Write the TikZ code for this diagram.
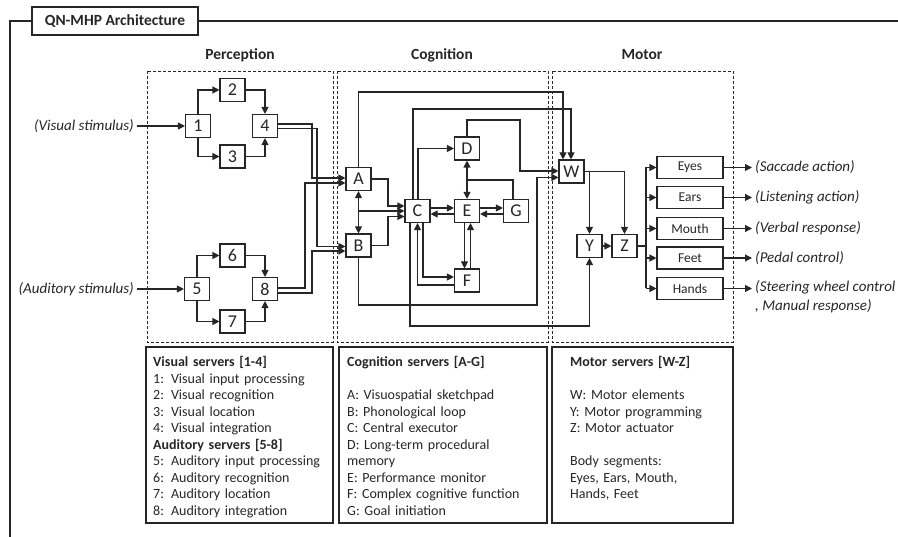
\documentclass[tikz,border=0pt]{standalone}
\usepackage{fontspec}
\setmainfont{Carlito}
\usetikzlibrary{arrows.meta}
\definecolor{ink}{HTML}{262626}
\tikzset{
  srv/.style={draw=ink, line width=1.1pt, minimum width=25pt, minimum height=23pt, inner sep=0pt, font=\fontsize{18}{18}\selectfont},
  seg/.style={draw=ink, line width=1.1pt, minimum width=66pt, minimum height=22pt, inner sep=0pt, font=\fontsize{13.5}{13.5}\selectfont},
  ln/.style={draw=ink, line width=1.1pt},
  arr/.style={ln, -{Triangle[length=7pt,width=7pt]}},
  darr/.style={ln, {Triangle[length=7pt,width=7pt]}-{Triangle[length=7pt,width=7pt]}},
  zone/.style={draw=ink, line width=0.9pt, dash pattern=on 3pt off 2pt},
  legtxt/.style={anchor=north west, inner sep=0pt, text width=185pt, align=left, font=\fontsize{14}{16.5}\selectfont},
  hdr/.style={anchor=base, font=\fontsize{15.5}{15.5}\selectfont\bfseries},
  stim/.style={font=\fontsize{15}{19}\selectfont\itshape, inner sep=3pt},
}
\begin{document}
\begin{tikzpicture}[x=1pt,y=-1pt, every node/.style={text=ink}]
\useasboundingbox (0,0) rectangle (898,537);

% frame and title
\node[draw=ink, line width=1.1pt, minimum width=166pt, minimum height=28pt, inner sep=0pt,
      font=\fontsize{15.5}{15.5}\selectfont\bfseries] (title) at (115,21) {QN-MHP Architecture};
\draw[ln] (10,537) -- (10,21) -- (title.west);
\draw[ln] (title.east) -- (898,21);

% headers
\node[hdr] (hp) at (240,60) {Perception};
\node[hdr] (hc) at (442,60) {Cognition};
\node[hdr] (hm) at (642,60) {Motor};

% zones
\draw[zone] (147,71) rectangle (333,342);
\draw[zone] (337,71) rectangle (548,342);
\draw[zone] (552,71) rectangle (733,342);

% perception servers
\node[srv] (n1) at (198,126) {1};
\node[srv] (n2) at (232.5,90) {2};
\node[srv] (n3) at (232.5,156.5) {3};
\node[srv] (n4) at (265,126) {4};
\node[srv] (n5) at (197,289) {5};
\node[srv] (n6) at (232.5,255.5) {6};
\node[srv] (n7) at (232.5,321.5) {7};
\node[srv] (n8) at (265,289) {8};

\node[stim, anchor=east] (vs) at (137,126) {(Visual stimulus)};
\node[stim, anchor=east] (as) at (137,289) {(Auditory stimulus)};

% cognition servers
\node[srv] (A) at (358.5,179) {A};
\node[srv] (B) at (358.5,245.5) {B};
\node[srv] (C) at (417.5,211) {C};
\node[srv] (D) at (467,148.5) {D};
\node[srv] (E) at (467,211) {E};
\node[srv] (G) at (516,211) {G};
\node[srv] (F) at (467,280.5) {F};

% motor servers
\node[srv] (W) at (571.5,171.5) {W};
\node[srv] (Y) at (589.5,246) {Y};
\node[srv] (Z) at (624.5,246) {Z};

\node[seg] (eyes)  at (690,167.5) {Eyes};
\node[seg] (ears)  at (690,197.5) {Ears};
\node[seg] (mouth) at (690,228.5) {Mouth};
\node[seg] (feet)  at (690,258) {Feet};
\node[seg] (hands) at (690,288.5) {Hands};

\node[stim, anchor=west] (o1) at (752,167.5) {(Saccade action)};
\node[stim, anchor=west] (o2) at (752,197.5) {(Listening action)};
\node[stim, anchor=west] (o3) at (752,228.5) {(Verbal response)};
\node[stim, anchor=west] (o4) at (752,258) {(Pedal control)};
\node[stim, anchor=north west, align=left] (o5) at (752,277) {(Steering wheel control\\, Manual response)};

% perception connectors
\draw[arr] (vs.east) -- (n1.west);
\draw[arr] (as.east) -- (n5.west);
\draw[arr] (n1.north) |- (n2.west);
\draw[arr] (n2.east) -| (n4.north);
\draw[arr] (n1.south) |- (n3.west);
\draw[arr] (n3.east) -| (n4.south);
\draw[arr] (n5.north) |- (n6.west);
\draw[arr] (n6.east) -| (n8.north);
\draw[arr] (n5.south) |- (n7.west);
\draw[arr] (n7.east) -| (n8.south);

\draw[arr] (n4.east |- 0,124) -- (312,124) -- (312,178) -- (A.west |- 0,178);
\draw[arr] (n4.east |- 0,128.5) -- (317,128.5) -- (317,246.5) -- (B.west |- 0,246.5);
\draw[arr] (n8.east |- 0,288) -- (305,288) -- (305,183) -- (A.west |- 0,183);
\draw[arr] (n8.east |- 0,293) -- (312,293) -- (312,251) -- (B.west |- 0,251);

% cognition connectors
\draw[darr] (A.south) -- (B.north);
\coordinate (jab) at (A.south |- 0,211);
\draw[arr] (jab) -- (C.west |- 0,211);
\draw[arr] (A.east) -- (388,179) -- (388,206) -- (C.west |- 0,206);
\draw[arr] (B.east) -- (388,245.5) -- (388,216.5) -- (C.west |- 0,216.5);
\draw[arr] (C.east |- 0,208) -- (E.west |- 0,208);
\draw[arr] (E.west |- 0,214) -- (C.east |- 0,214);
\draw[arr] (E.east |- 0,208) -- (G.west |- 0,208);
\draw[arr] (G.west |- 0,214) -- (E.east |- 0,214);
\draw[darr] (D.south) -- (E.north);
\draw[ln] (G.north -| 513,0) -- (513,180) -- (467,180);
\draw[arr] (E.south -| 464.5,0) -- (F.north -| 464.5,0);
\draw[arr] (F.north -| 470.5,0) -- (E.south -| 470.5,0);
\draw[arr] (C.north -| 418,0) |- (D.west);
\draw[arr] (C.north -| 413,0) -- (413,109) -- (571,109) -- (W.north -| 571,0);
\draw[arr] (A.north) -- (358.5,92) -- (563,92) -- (W.north -| 563,0);
\draw[arr] (D.north) -- (467,120) -- (520,120) -- (520,171) -- (W.west |- 0,171);
\draw[arr] (B.south) -- (358.5,305) -- (537,305) -- (537,177.5) -- (W.west |- 0,177.5);
\draw[arr] (C.south -| 410,0) -- (410,326) -- (589.5,326) -- (Y.south);
\draw[arr] (C.south -| 423,0) -- (423,277) -- (F.west |- 0,277);
\draw[arr] (F.west |- 0,285) -- (417.5,285) -- (C.south -| 417.5,0);

% motor connectors
\draw[arr] (W.east) -| (Z.north);
\draw[arr] (W.east -| Y.north) -- (Y.north);
\draw[arr] (Y.east) -- (Z.west);
\coordinate (trunk) at (646,246);
\draw[draw=ink, line width=2.2pt] (Z.east) -- (trunk);
\draw[ln] (eyes.west -| trunk) -- (hands.west -| trunk);
\foreach \s in {eyes,ears,mouth,feet,hands}{
  \draw[arr] (\s.west -| trunk) -- (\s.west);
}
\draw[arr] (eyes.east) -- (o1.west);
\draw[arr] (ears.east) -- (o2.west);
\draw[arr] (mouth.east) -- (o3.west);
\draw[arr] (feet.east) -- (o4.west);
\draw[arr] (hands.east) -- (hands.east -| o5.west);

% legends
\draw[ln] (146,347) rectangle (333,523);
\draw[ln] (339,347) rectangle (547,523);
\draw[ln] (552,347) rectangle (733,523);

\node[legtxt] (lp) at (153,355) {\strut\textbf{Visual servers [1-4]}\\
1: Visual input processing\\
2: Visual recognition\\
3: Visual location\\
4: Visual integration\\
\textbf{Auditory servers [5-8]}\\
5: Auditory input processing\\
6: Auditory recognition\\
7: Auditory location\\
8: Auditory integration};

\node[legtxt] (lc) at (347,355) {\strut\textbf{Cognition servers [A-G]}\\
\mbox{}\\
A: Visuospatial sketchpad\\
B: Phonological loop\\
C: Central executor\\
D: Long-term procedural\\
memory\\
E: Performance monitor\\
F: Complex cognitive function\\
G: Goal initiation};

\node[legtxt] (lm) at (570,355) {\strut\textbf{Motor servers [W-Z]}\\
\mbox{}\\
W: Motor elements\\
Y: Motor programming\\
Z: Motor actuator\\
\mbox{}\\
Body segments:\\
Eyes, Ears, Mouth,\\
Hands, Feet};
\end{tikzpicture}
\end{document}
